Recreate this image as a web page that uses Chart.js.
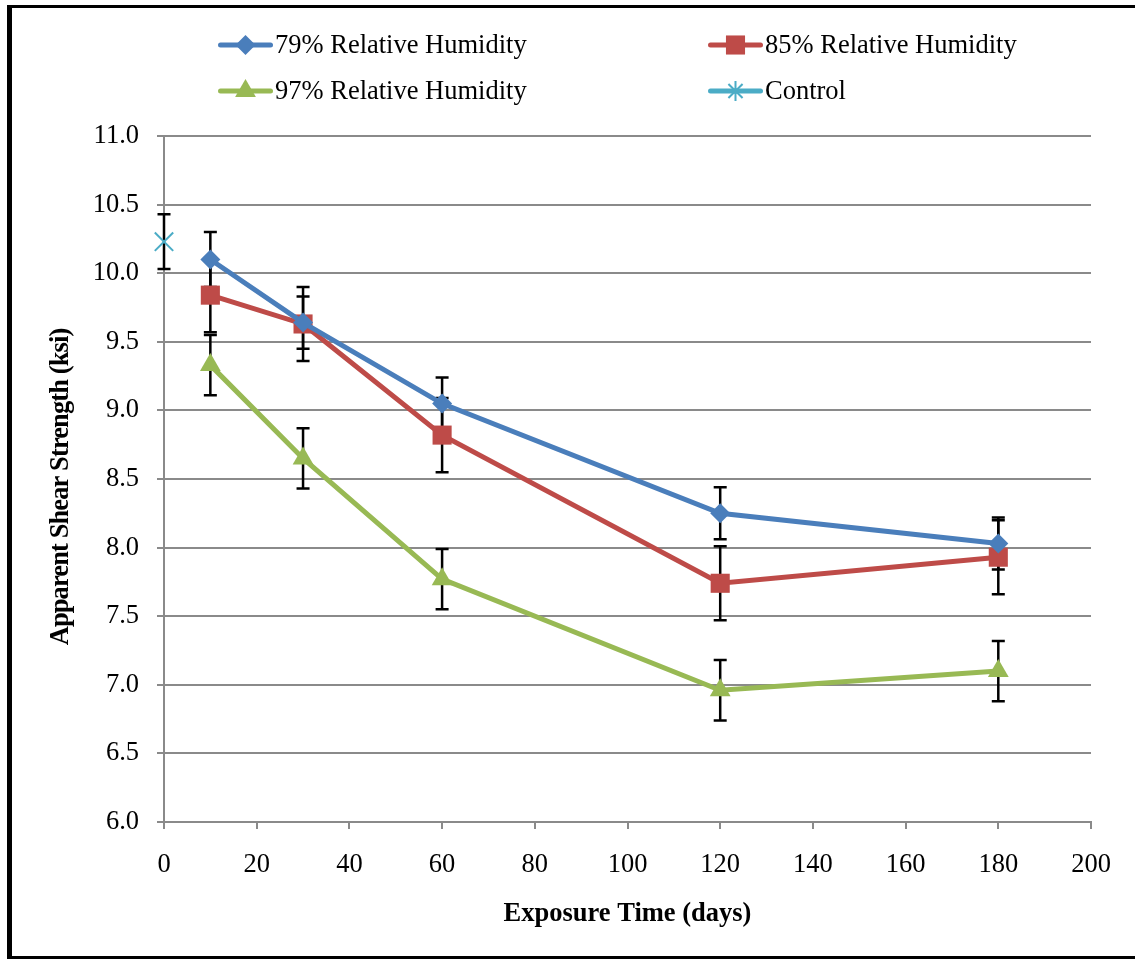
<!DOCTYPE html>
<html><head><meta charset="utf-8">
<script src="https://cdn.jsdelivr.net/npm/chart.js@4/dist/chart.umd.min.js"></script>
<style>
html,body{margin:0;padding:0;background:#fff;overflow:hidden;}
#wrap{position:relative;width:1135px;height:960px;overflow:hidden;}
#frame{position:absolute;left:7px;top:5px;width:1200px;height:948px;border-left:5px solid #000;border-top:3px solid #000;border-bottom:3px solid #000;pointer-events:none;}
canvas{position:absolute;left:0;top:0;}
</style></head>
<body>
<div id="wrap"><canvas id="c" width="1135" height="960"></canvas><div id="frame"></div></div>
<script>
// ---- data ----
const days = [10, 30, 60, 120, 180];
const rh79 = [10.10, 9.64, 9.05, 8.25, 8.03];
const rh79Err = [0.20, 0.19, 0.19, 0.19, 0.19];
const rh85 = [9.84, 9.63, 8.82, 7.74, 7.93];
const rh85Err = [0.27, 0.27, 0.27, 0.27, 0.27];
const rh97 = [9.33, 8.65, 7.77, 6.96, 7.10];
const rh97Err = [0.22, 0.22, 0.22, 0.22, 0.22];
const controlDays = [0];
const controlVal = [10.23];
const controlErr = [0.20];
const seriesLabels = ['79% Relative Humidity', '85% Relative Humidity', '97% Relative Humidity', 'Control'];
const xTitle = 'Exposure Time (days)';
const yTitle = 'Apparent Shear Strength (ksi)';

const FONT = "'Liberation Serif', 'Times New Roman', serif";
const FS = 26.5;
const GRID = '#8a8a8a';

function pts(xs, ys) { return xs.map((x, i) => ({x: x, y: ys[i]})); }

const datasets = [
  {label: seriesLabels[0], data: pts(days, rh79), errors: rh79Err, borderColor: '#4A7EBB', backgroundColor: '#4A7EBB',
   pointStyle: 'rectRot', legendStyle: 'rectRot', pointRadius: 10, pointBorderWidth: 0, borderWidth: 5, showLine: true, clip: false},
  {label: seriesLabels[1], data: pts(days, rh85), errors: rh85Err, borderColor: '#BE4B48', backgroundColor: '#BE4B48',
   pointStyle: 'rect', legendStyle: 'rect', pointRadius: 13.5, pointBorderWidth: 0, borderWidth: 5, showLine: true, clip: false},
  {label: seriesLabels[2], data: pts(days, rh97), errors: rh97Err, borderColor: '#98B954', backgroundColor: '#98B954',
   pointStyle: 'triangle', legendStyle: 'triangle', pointRadius: 12, pointBorderWidth: 0, borderWidth: 5, showLine: true, clip: false},
  {label: seriesLabels[3], data: pts(controlDays, controlVal), errors: controlErr, borderColor: '#4BACC6', backgroundColor: '#4BACC6',
   pointStyle: 'crossRot', legendStyle: 'star', pointRadius: 13, pointBorderWidth: 2, borderWidth: 5, showLine: false, clip: false}
];

const errorBars = {
  id: 'errorBars',
  beforeDatasetsDraw(chart) {
    const ctx = chart.ctx, xs = chart.scales.x, ys = chart.scales.y;
    ctx.save();
    ctx.strokeStyle = '#000';
    ctx.lineWidth = 2.5;
    chart.data.datasets.forEach(ds => {
      ds.data.forEach((p, i) => {
        const e = ds.errors[i];
        const px = xs.getPixelForValue(p.x);
        const top = ys.getPixelForValue(p.y + e), bot = ys.getPixelForValue(p.y - e);
        ctx.beginPath();
        ctx.moveTo(px, top); ctx.lineTo(px, bot);
        ctx.moveTo(px - 6.5, top); ctx.lineTo(px + 6.5, top);
        ctx.moveTo(px - 6.5, bot); ctx.lineTo(px + 6.5, bot);
        ctx.stroke();
      });
    });
    ctx.restore();
  }
};

const customLegend = {
  id: 'customLegend',
  afterDraw(chart) {
    const ctx = chart.ctx;
    const slots = [[218, 45], [708, 45], [218, 91], [708, 91]];
    chart.data.datasets.forEach((ds, i) => {
      const [x0, y] = slots[i];
      ctx.save();
      ctx.strokeStyle = ds.borderColor;
      ctx.fillStyle = ds.backgroundColor;
      ctx.lineWidth = 5;
      ctx.lineCap = 'round';
      ctx.beginPath();
      ctx.moveTo(x0 + 2.5, y); ctx.lineTo(x0 + 52.5, y);
      ctx.stroke();
      ctx.lineCap = 'butt';
      ctx.lineWidth = ds.pointBorderWidth || 0;
      const r = ds.legendStyle === 'star' ? 10 : ds.pointRadius;
      if (Chart.helpers && Chart.helpers.drawPoint) {
        Chart.helpers.drawPoint(ctx, {pointStyle: ds.legendStyle, radius: r, rotation: 0, borderWidth: ds.pointBorderWidth || 0}, x0 + 27.5, y);
      }
      ctx.fillStyle = '#000';
      ctx.font = FS + 'px ' + FONT;
      ctx.textBaseline = 'middle';
      ctx.textAlign = 'left';
      ctx.fillText(ds.label, x0 + 57, y + 1);
      ctx.restore();
    });
  }
};

// y-axis title drawn slightly condensed, as in the reference
const yTitlePlugin = {
  id: 'yTitlePlugin',
  afterDraw(chart) {
    const ctx = chart.ctx, ys = chart.scales.y;
    ctx.save();
    ctx.translate(61, (ys.top + ys.bottom) / 2 + 8);
    ctx.rotate(-Math.PI / 2);
    ctx.font = 'bold ' + FS + 'px ' + FONT;
    if ('letterSpacing' in ctx) ctx.letterSpacing = '-0.9px';
    ctx.fillStyle = '#000';
    ctx.textAlign = 'center';
    ctx.textBaseline = 'middle';
    ctx.fillText(yTitle, 0, 0);
    ctx.restore();
  }
};

new Chart(document.getElementById('c'), {
  type: 'scatter',
  data: {datasets: datasets},
  options: {
    responsive: false,
    animation: false,
    devicePixelRatio: 1,
    layout: {padding: {top: 136, right: 44, left: 0, bottom: 0}},
    plugins: {legend: {display: false}, tooltip: {enabled: false}},
    scales: {
      x: {
        type: 'linear', min: 0, max: 200,
        afterFit(s) { s.height = 138; },
        ticks: {stepSize: 20, color: '#000', font: {family: FONT, size: FS}, padding: 20, maxRotation: 0},
        grid: {drawOnChartArea: false, drawTicks: true, tickLength: 7, color: GRID, lineWidth: 2},
        border: {display: true, color: GRID, width: 2},
        title: {display: true, text: xTitle, color: '#000', font: {family: FONT, size: FS, weight: 'bold'}, padding: {top: 0, bottom: 30}}
      },
      y: {
        type: 'linear', min: 6, max: 11,
        afterFit(s) { s.width = 164; },
        ticks: {stepSize: 0.5, color: '#000', font: {family: FONT, size: FS}, padding: 18,
                callback: v => Number(v).toFixed(1)},
        grid: {drawTicks: true, tickLength: 7, color: GRID, lineWidth: 2},
        border: {display: true, color: GRID, width: 2},
        title: {display: false}
      }
    }
  },
  plugins: [errorBars, customLegend, yTitlePlugin]
});
</script>
</body></html>
